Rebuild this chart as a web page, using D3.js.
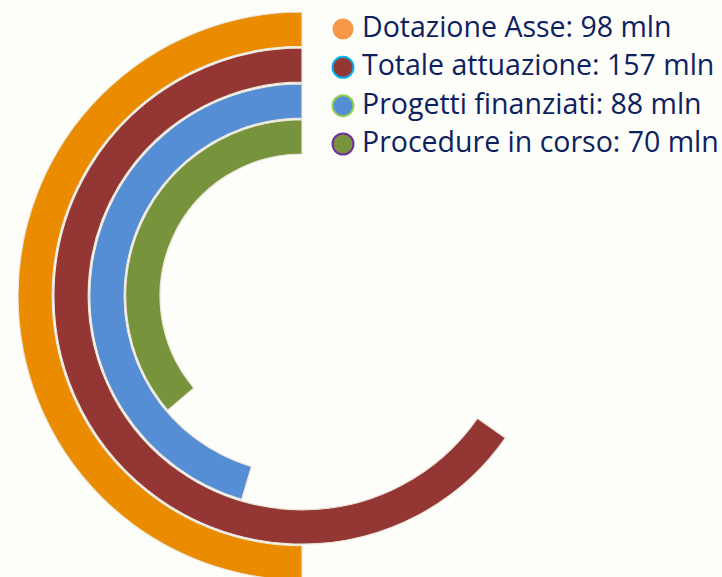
<!DOCTYPE html>
<html>
<head>
<meta charset="utf-8">
<script src="https://cdn.jsdelivr.net/npm/d3@7"></script>
<style>
  html, body { margin: 0; padding: 0; background: #fdfdf9; }
  svg { display: block; }
</style>
</head>
<body>
<svg id="chart"></svg>
<script>
// series, outermost ring first
const series = ['Dotazione Asse', 'Totale attuazione', 'Progetti finanziati', 'Procedure in corso'];
const labelValues = [98, 157, 88, 70];          // mln, as written in the legend
const arcValues = [98, 128, 89, 71];            // sweep (98 = half turn)
const ringColors = ['#ea8b00', '#943634', '#558ed5', '#77933c'];
const dotColors = ['#f79646', '#943634', '#558ed5', '#77933c'];
const dotBorders = ['none', '#00b0f0', '#92d050', '#7030a0'];

const width = 722, height = 577;
const cx = 302, cy = 296;

const svg = d3.select('#chart')
  .attr('width', width)
  .attr('height', height);

// ring positions: band goes from inner radius (lower edge) outwards
const radius = d3.scaleBand()
  .domain(series)
  .range([284, 142])
  .paddingInner(0.045);

// value -> angle, counter-clockwise from 12 o'clock
const angle = d3.scaleLinear()
  .domain([0, 98])
  .range([0, -Math.PI]);

const arc = d3.arc()
  .innerRadius(d => radius(d.name))
  .outerRadius(d => radius(d.name) + radius.bandwidth())
  .startAngle(0)
  .endAngle(d => angle(d.value));

const data = series.map((name, i) => ({ name, value: arcValues[i], color: ringColors[i] }));

svg.append('g')
  .attr('transform', `translate(${cx},${cy})`)
  .selectAll('path')
  .data(data)
  .join('path')
  .attr('d', arc)
  .attr('fill', d => d.color)
  .attr('stroke', '#ebe7db')
  .attr('stroke-width', 1.2);

// legend
const row = d3.scalePoint()
  .domain(series)
  .range([37, 152]);

const legend = svg.append('g');

const item = legend.selectAll('g')
  .data(series)
  .join('g')
  .attr('transform', d => `translate(0,${row(d)})`);

item.append('circle')
  .attr('cx', 343)
  .attr('cy', -8)
  .attr('r', 10.5)
  .attr('fill', (d, i) => dotColors[i])
  .attr('stroke', (d, i) => dotBorders[i])
  .attr('stroke-width', 2);

item.append('text')
  .attr('x', 362)
  .attr('y', 0)
  .attr('fill', '#0d2160')
  .style('font-family', '"Open Sans", sans-serif')
  .style('font-size', '28.5px')
  .text((d, i) => `${d}: ${labelValues[i]} mln`);
</script>
</body>
</html>
